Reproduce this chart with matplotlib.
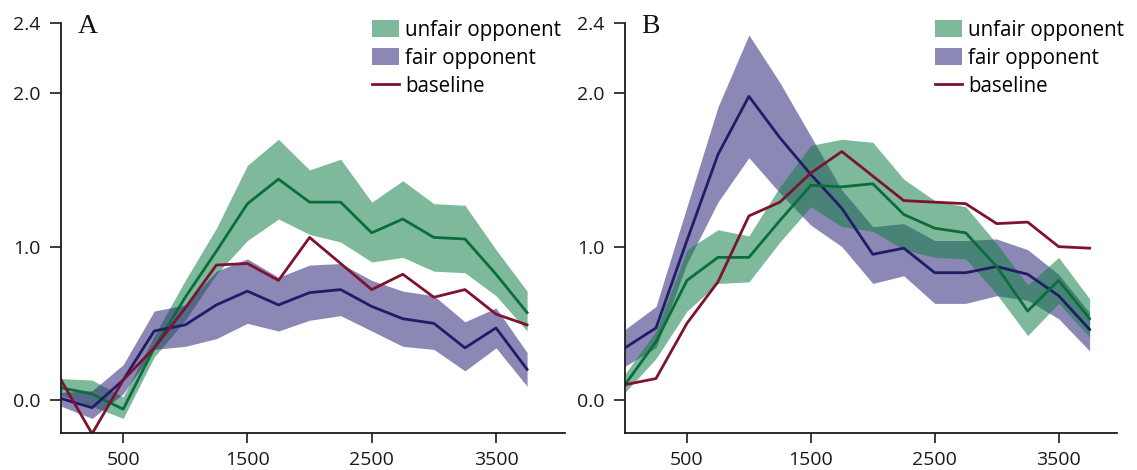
import matplotlib
matplotlib.use("Agg")
import matplotlib.pyplot as plt
from matplotlib.patches import Patch
from matplotlib.lines import Line2D

# time points (ms), one every 250
t = [0, 250, 500, 750, 1000, 1250, 1500, 1750, 2000, 2250, 2500, 2750, 3000, 3250, 3500, 3750]

# panel A
a_unfair = [0.08, 0.04, -0.06, 0.34, 0.67, 0.97, 1.28, 1.44, 1.29, 1.29, 1.09, 1.18, 1.06, 1.05, 0.82, 0.57]
a_unfair_hi = [0.14, 0.13, 0.02, 0.42, 0.78, 1.12, 1.53, 1.70, 1.50, 1.57, 1.29, 1.43, 1.28, 1.27, 0.98, 0.71]
a_unfair_lo = [0.03, -0.04, -0.12, 0.28, 0.52, 0.82, 1.04, 1.18, 1.08, 1.03, 0.90, 0.93, 0.84, 0.83, 0.68, 0.45]
a_fair = [0.01, -0.05, 0.13, 0.45, 0.49, 0.62, 0.71, 0.62, 0.70, 0.72, 0.61, 0.53, 0.50, 0.34, 0.47, 0.20]
a_fair_hi = [0.05, 0.06, 0.23, 0.58, 0.62, 0.84, 0.92, 0.80, 0.88, 0.89, 0.78, 0.71, 0.68, 0.51, 0.60, 0.31]
a_fair_lo = [-0.04, -0.12, 0.04, 0.33, 0.35, 0.40, 0.50, 0.45, 0.52, 0.55, 0.45, 0.35, 0.33, 0.19, 0.34, 0.09]
a_base = [0.13, -0.22, 0.13, 0.34, 0.60, 0.88, 0.89, 0.78, 1.06, 0.89, 0.72, 0.82, 0.67, 0.72, 0.56, 0.49]

# panel B
b_unfair = [0.10, 0.38, 0.78, 0.93, 0.93, 1.17, 1.40, 1.39, 1.41, 1.21, 1.12, 1.09, 0.87, 0.58, 0.78, 0.53]
b_unfair_hi = [0.17, 0.45, 0.98, 1.11, 1.07, 1.39, 1.66, 1.70, 1.68, 1.44, 1.30, 1.26, 1.02, 0.75, 0.93, 0.66]
b_unfair_lo = [0.05, 0.27, 0.58, 0.76, 0.77, 1.03, 1.26, 1.13, 1.10, 0.98, 0.93, 0.92, 0.69, 0.42, 0.63, 0.41]
b_fair = [0.34, 0.47, 1.04, 1.60, 1.98, 1.71, 1.47, 1.25, 0.95, 0.99, 0.83, 0.83, 0.87, 0.82, 0.68, 0.46]
b_fair_hi = [0.46, 0.61, 1.26, 1.91, 2.38, 2.07, 1.72, 1.37, 1.13, 1.15, 1.04, 1.04, 1.05, 0.98, 0.82, 0.57]
b_fair_lo = [0.22, 0.34, 0.89, 1.29, 1.58, 1.35, 1.14, 1.00, 0.76, 0.81, 0.63, 0.63, 0.68, 0.65, 0.53, 0.32]
b_base = [0.10, 0.14, 0.50, 0.77, 1.20, 1.29, 1.48, 1.62, 1.46, 1.30, 1.29, 1.28, 1.15, 1.16, 1.00, 0.99]

xticks = [500, 1500, 2500, 3500]
ytick_labels = ["0.0", "1.0", "2.0", "2.4"]

GREEN_FILL = "#138047"
PURPLE_FILL = "#2e2779"
FILL_ALPHA = 0.55
GREEN_LINE = "#0b6e3a"
PURPLE_LINE = "#221c66"
BASE_LINE = "#7d1330"
LW = 2.0

plt.rcParams["font.family"] = ["Open Sans", "DejaVu Sans"]

W, H = 1137, 470
fig = plt.figure(figsize=(W / 100, H / 100), dpi=100)

ytop = 2.46
ybot = -0.215
y_px_top, y_px_bot = 22.7, 433


def draw_unfair(ax, m, lo, hi):
    ax.fill_between(t, lo, hi, color=GREEN_FILL, alpha=FILL_ALPHA, linewidth=0)
    ax.plot(t, m, color=GREEN_LINE, linewidth=LW)


def draw_fair(ax, m, lo, hi):
    ax.fill_between(t, lo, hi, color=PURPLE_FILL, alpha=FILL_ALPHA, linewidth=0)
    ax.plot(t, m, color=PURPLE_LINE, linewidth=LW)


def setup(ax, xmax, letter):
    ax.set_xlim(0, xmax)
    ax.set_ylim(ybot, ytop)
    for s in ["top", "right"]:
        ax.spines[s].set_visible(False)
    for s in ["left", "bottom"]:
        ax.spines[s].set_linewidth(1.3)
        ax.spines[s].set_color("#1a1a1a")
    ax.set_xticks(xticks)
    ax.set_xticklabels([str(v) for v in xticks])
    ax.set_yticks([0, 1, 2, ytop])
    ax.set_yticklabels(ytick_labels)
    ax.tick_params(axis="y", length=8, width=1.2, pad=6.5, labelsize=14, colors="#1a1a1a")
    ax.tick_params(axis="x", length=7, width=1.2, pad=6, labelsize=14, colors="#1a1a1a")
    ax.text(0.033, 1.02, letter, transform=ax.transAxes, family="Liberation Serif",
            fontsize=20, va="top", ha="left", color="#111111")
    handles = [
        Patch(facecolor=GREEN_FILL, alpha=FILL_ALPHA, edgecolor="none"),
        Patch(facecolor=PURPLE_FILL, alpha=FILL_ALPHA, edgecolor="none"),
        Line2D([], [], color=BASE_LINE, linewidth=LW),
    ]
    labels = ["unfair opponent", "fair opponent", "baseline"]
    return handles, labels


legend_kw = dict(bbox_transform=fig.transFigure, frameon=False, fontsize=14.8,
                 handlelength=1.3, handleheight=0.9, handletextpad=0.3,
                 labelspacing=0.33, borderpad=0, borderaxespad=0, loc="upper left")

# panel A
axA = fig.add_axes([61 / W, (H - y_px_bot) / H, (565 - 61) / W, (y_px_bot - y_px_top) / H])
draw_unfair(axA, a_unfair, a_unfair_lo, a_unfair_hi)
draw_fair(axA, a_fair, a_fair_lo, a_fair_hi)
axA.plot(t, a_base, color=BASE_LINE, linewidth=LW)
h, l = setup(axA, 4055, "A")
axA.legend(h, l, bbox_to_anchor=(372 / W, 1 - 20 / H), **legend_kw)

# panel B
axB = fig.add_axes([625 / W, (H - y_px_bot) / H, (1117 - 625) / W, (y_px_bot - y_px_top) / H])
draw_fair(axB, b_fair, b_fair_lo, b_fair_hi)
draw_unfair(axB, b_unfair, b_unfair_lo, b_unfair_hi)
axB.plot(t, b_base, color=BASE_LINE, linewidth=LW)
h, l = setup(axB, 3971, "B")
axB.legend(h, l, bbox_to_anchor=(935 / W, 1 - 20 / H), **legend_kw)

fig.savefig("out.png", dpi=100)
